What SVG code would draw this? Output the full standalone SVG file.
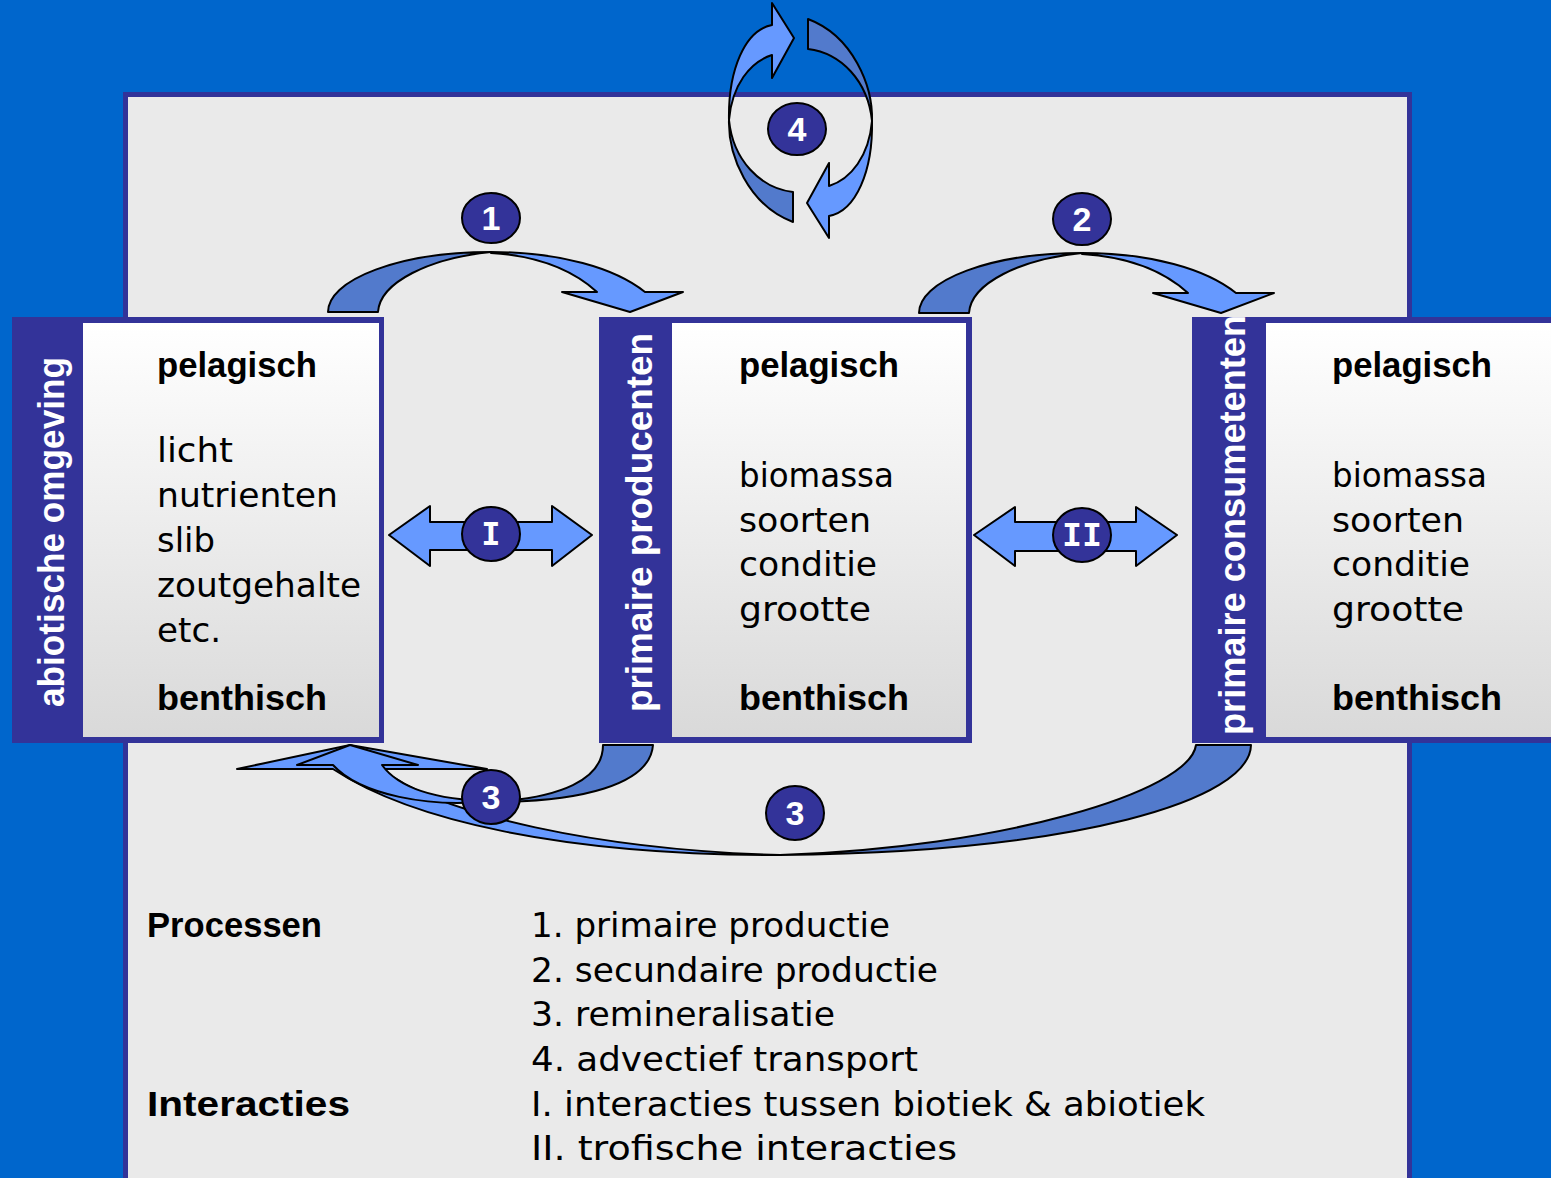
<svg xmlns="http://www.w3.org/2000/svg" width="1551" height="1178" viewBox="0 0 1551 1178">
<defs>
<linearGradient id="boxgrad" x1="0" y1="0" x2="0" y2="1">
<stop offset="0" stop-color="#FFFFFF"/>
<stop offset="1" stop-color="#D9D9D9"/>
</linearGradient>
<style>
.box{fill:#333399}
.inner{fill:url(#boxgrad)}
.lbl{font-family:"Liberation Sans",Arial,sans-serif;font-weight:bold;font-size:36px;fill:#FFFFFF}
.hd{font-family:"Liberation Sans",Arial,sans-serif;font-weight:bold;font-size:35px;fill:#000000}
.tx{font-family:"DejaVu Sans",Verdana,sans-serif;font-size:34px;fill:#000000}
.al{fill:#6699FF;stroke:#000000;stroke-width:2;stroke-linejoin:round}
.ad{fill:#527ACC;stroke:#000000;stroke-width:2;stroke-linejoin:round}
.badge{fill:#333399;stroke:#000000;stroke-width:2}
.num{font-family:"Liberation Sans",Arial,sans-serif;font-weight:bold;font-size:34px;fill:#FFFFFF;text-anchor:middle}
.rom{font-family:"DejaVu Sans Mono",monospace;font-weight:bold;font-size:32px;fill:#FFFFFF;text-anchor:middle}
</style>
</defs>
<rect x="0" y="0" width="1551" height="1178" fill="#0066CC"/>
<g id="panel">
<rect x="125.5" y="94.5" width="1284" height="1100" fill="#EAEAEA" stroke="#333399" stroke-width="5"/>
</g>

<g id="node-abiotic">
<rect class="box" x="12" y="317" width="372" height="426"/>
<rect class="inner" x="83" y="323" width="296" height="414"/>
<text class="lbl" transform="translate(64,707) rotate(-90)" textLength="350" lengthAdjust="spacingAndGlyphs">abiotische omgeving</text>
<text class="hd" x="157" y="377" textLength="160" lengthAdjust="spacingAndGlyphs">pelagisch</text>
<text class="tx" x="157" y="462" textLength="76" lengthAdjust="spacingAndGlyphs">licht</text>
<text class="tx" x="157" y="507" textLength="181" lengthAdjust="spacingAndGlyphs">nutrienten</text>
<text class="tx" x="157" y="552" textLength="58" lengthAdjust="spacingAndGlyphs">slib</text>
<text class="tx" x="157" y="597" textLength="204" lengthAdjust="spacingAndGlyphs">zoutgehalte</text>
<text class="tx" x="157" y="642" textLength="64" lengthAdjust="spacingAndGlyphs">etc.</text>
<text class="hd" x="157" y="710" textLength="170" lengthAdjust="spacingAndGlyphs">benthisch</text>
</g>

<g id="node-producers">
<rect class="box" x="599" y="317" width="373" height="426"/>
<rect class="inner" x="672" y="323" width="294" height="414"/>
<text class="lbl" transform="translate(652,712) rotate(-90)" textLength="379" lengthAdjust="spacingAndGlyphs">primaire producenten</text>
<text class="hd" x="739" y="377" textLength="160" lengthAdjust="spacingAndGlyphs">pelagisch</text>
<text class="tx" x="739" y="487" textLength="155" lengthAdjust="spacingAndGlyphs">biomassa</text>
<text class="tx" x="739" y="532" textLength="132" lengthAdjust="spacingAndGlyphs">soorten</text>
<text class="tx" x="739" y="576" textLength="138" lengthAdjust="spacingAndGlyphs">conditie</text>
<text class="tx" x="739" y="621" textLength="132" lengthAdjust="spacingAndGlyphs">grootte</text>
<text class="hd" x="739" y="710" textLength="170" lengthAdjust="spacingAndGlyphs">benthisch</text>
</g>

<g id="node-consumers">
<rect class="box" x="1192" y="317" width="370" height="426"/>
<rect class="inner" x="1266" y="323" width="290" height="414"/>
<text class="lbl" transform="translate(1245,735) rotate(-90)" textLength="420" lengthAdjust="spacingAndGlyphs">primaire consumetenten</text>
<text class="hd" x="1332" y="377" textLength="160" lengthAdjust="spacingAndGlyphs">pelagisch</text>
<text class="tx" x="1332" y="487" textLength="155" lengthAdjust="spacingAndGlyphs">biomassa</text>
<text class="tx" x="1332" y="532" textLength="132" lengthAdjust="spacingAndGlyphs">soorten</text>
<text class="tx" x="1332" y="576" textLength="138" lengthAdjust="spacingAndGlyphs">conditie</text>
<text class="tx" x="1332" y="621" textLength="132" lengthAdjust="spacingAndGlyphs">grootte</text>
<text class="hd" x="1332" y="710" textLength="170" lengthAdjust="spacingAndGlyphs">benthisch</text>
</g>

<g id="connectors">
<!-- 4: advective transport cycle -->
<g id="arrow-4">
<g id="arrow-4-left">
<path class="ad" d="M729,120 C728,155 748,205 793,222 L793,192 C760,188 733,160 729,120 Z"/>
<path class="al" d="M772,3 L794,38 L772,78 L772,55 C750,62 732,85 729,120 C728,70 745,30 772,25 Z"/>
</g>
<g transform="rotate(180 800.5 120.5)">
<path class="ad" d="M729,120 C728,155 748,205 793,222 L793,192 C760,188 733,160 729,120 Z"/>
<path class="al" d="M772,3 L794,38 L772,78 L772,55 C750,62 732,85 729,120 C728,70 745,30 772,25 Z"/>
</g>
</g>
<!-- 1: primary production -->
<g id="arrow-1">
<path class="ad" d="M328,312 A163,60 0 0 1 491,252 C430,258 380,282 378,312 Z"/>
<path class="al" d="M491,252 C560,252 615,268 645,292 L683,292 L630,312 L562,292 L597,292 C575,272 540,256 491,253 Z"/>
</g>
<!-- 2: secondary production -->
<g id="arrow-2" transform="translate(591,1)">
<path class="ad" d="M328,312 A163,60 0 0 1 491,252 C430,258 380,282 378,312 Z"/>
<path class="al" d="M491,252 C560,252 615,268 645,292 L683,292 L630,312 L562,292 L597,292 C575,272 540,256 491,253 Z"/>
</g>
<!-- I and II: interactions -->
<path id="arrow-I" class="al" d="M389,535 L430,506 L430,522 L552,522 L552,506 L592,535 L552,566 L552,550 L430,550 L430,566 Z"/>
<path id="arrow-II" class="al" d="M974,535 L1015,507 L1015,522 L1136,522 L1136,507 L1177,535 L1136,566 L1136,551 L1015,551 L1015,566 Z"/>
<!-- 3: remineralisation from consumers -->
<g id="arrow-3b">
<path class="ad" d="M1196,745 L1251,745 C1250,800 1080,852 780,855 C1000,848 1190,792 1196,745 Z"/>
<path class="al" d="M350,745 L487,769 L382,769 C440,815 600,850 780,855 C560,855 410,820 333,769 L237,769 Z"/>
</g>
<!-- 3: remineralisation from producers -->
<g id="arrow-3a">
<path class="ad" d="M603,745 L653,745 C650,785 580,802 491,802 C560,798 603,780 603,745 Z"/>
<path class="al" d="M350,745 L418,765 L382,765 C400,790 440,800 491,801 C430,808 360,795 333,765 L297,765 Z"/>
</g>
<!-- badges -->
<ellipse class="badge" cx="797" cy="129" rx="29" ry="26"/>
<text class="num" x="797" y="141">4</text>
<ellipse class="badge" cx="491" cy="218" rx="29" ry="25"/>
<text class="num" x="491" y="230">1</text>
<ellipse class="badge" cx="1082" cy="219" rx="29" ry="26"/>
<text class="num" x="1082" y="231">2</text>
<ellipse class="badge" cx="491" cy="534" rx="29" ry="27"/>
<text class="rom" x="491" y="545">I</text>
<ellipse class="badge" cx="1082" cy="535" rx="29" ry="27"/>
<text class="rom" x="1082" y="546" textLength="40" lengthAdjust="spacingAndGlyphs">II</text>
<ellipse class="badge" cx="491" cy="797" rx="29" ry="27"/>
<text class="num" x="491" y="809">3</text>
<ellipse class="badge" cx="795" cy="813" rx="29" ry="27"/>
<text class="num" x="795" y="825">3</text>
</g>

<g id="legend">
<text class="hd" x="147" y="937" textLength="175" lengthAdjust="spacingAndGlyphs">Processen</text>
<text class="hd" x="147" y="1116" textLength="203" lengthAdjust="spacingAndGlyphs">Interacties</text>
<text class="tx" x="531" y="937" textLength="359" lengthAdjust="spacingAndGlyphs">1. primaire productie</text>
<text class="tx" x="531" y="982" textLength="407" lengthAdjust="spacingAndGlyphs">2. secundaire productie</text>
<text class="tx" x="531" y="1026" textLength="304" lengthAdjust="spacingAndGlyphs">3. remineralisatie</text>
<text class="tx" x="531" y="1071" textLength="387" lengthAdjust="spacingAndGlyphs">4. advectief transport</text>
<text class="tx" x="531" y="1116" textLength="674" lengthAdjust="spacingAndGlyphs">I. interacties tussen biotiek &amp; abiotiek</text>
<text class="tx" x="531" y="1160" textLength="426" lengthAdjust="spacingAndGlyphs">II. trofische interacties</text>
</g>
</svg>
